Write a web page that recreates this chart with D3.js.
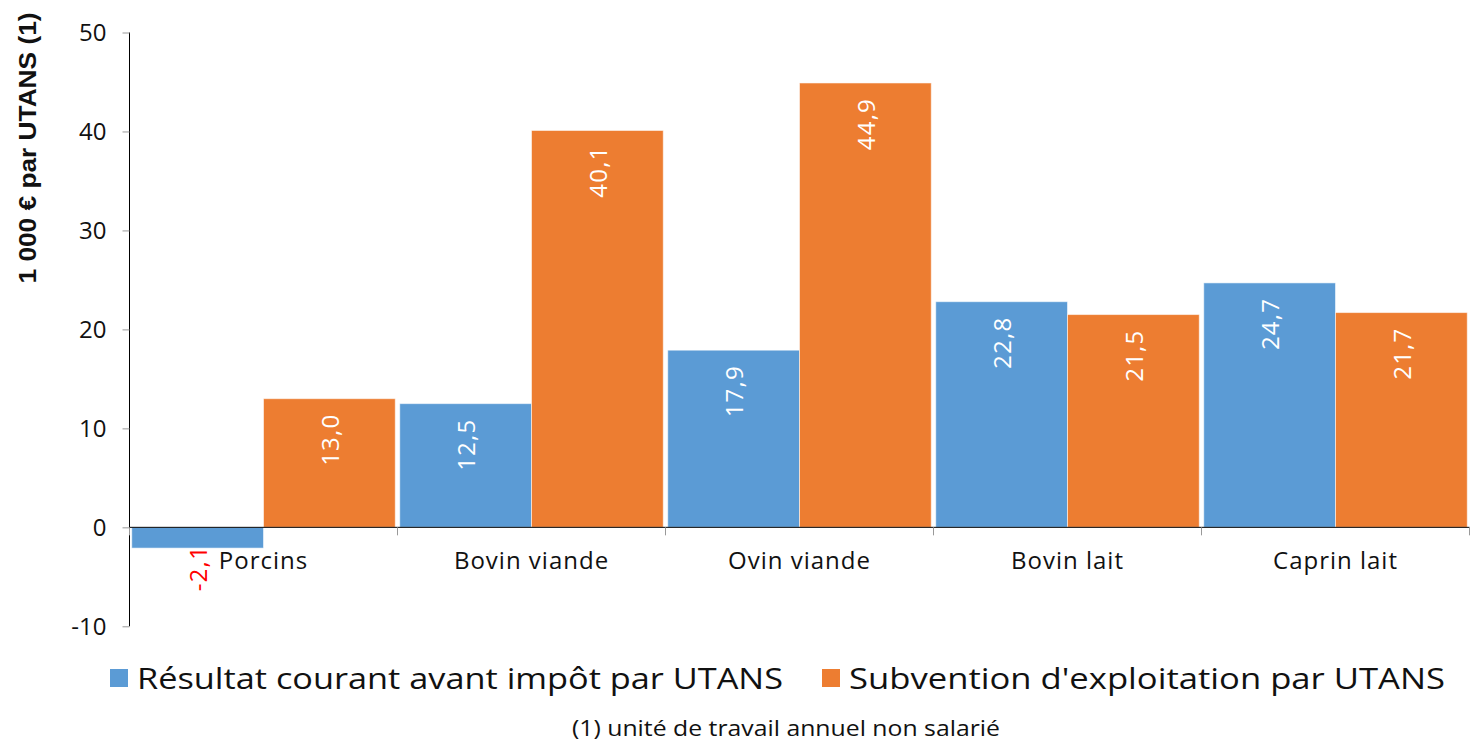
<!DOCTYPE html>
<html><head><meta charset="utf-8">
<script src="https://cdn.jsdelivr.net/npm/d3@7"></script>
<style>body{margin:0;background:#fff}svg{display:block}</style>
</head><body>
<svg id="c" width="1472" height="747"></svg>
<script>
const categories = ["Porcins","Bovin viande","Ovin viande","Bovin lait","Caprin lait"];
const seriesNames = ["Résultat courant avant impôt par UTANS","Subvention d'exploitation par UTANS"];
const resultat = [-2.1, 12.5, 17.9, 22.8, 24.7];
const subvention = [13.0, 40.1, 44.9, 21.5, 21.7];
const yTicks = [-10, 0, 10, 20, 30, 40, 50];
const colors = ["#5B9BD5", "#ED7D31"];

const svg = d3.select("#c");
const x0 = d3.scaleBand().domain(categories).range([129.5, 1469.5]).paddingInner(0).paddingOuter(0);
const x1 = d3.scaleBand().domain([0,1]).range([0, x0.bandwidth()]).paddingOuter(0.017);
const y = d3.scaleLinear().domain([-10, 50]).range([626.3, 32.5]);
const fmt = v => v.toFixed(1).replace(".", ",");
const font = "'Open Sans', sans-serif";

// bars
const data = categories.map((c,i) => ({c, vals:[resultat[i], subvention[i]]}));
const g = svg.append("g");
data.forEach(d => {
  d.vals.forEach((v,k) => {
    const bx = x0(d.c) + x1(k);
    g.append("rect")
      .attr("x", bx).attr("width", x1.bandwidth())
      .attr("y", y(Math.max(0,v))).attr("height", Math.abs(y(v)-y(0)))
      .attr("fill", colors[k]).attr("stroke", "#fff").attr("stroke-opacity", 0.55).attr("stroke-width", 1);
    const cx = bx + x1.bandwidth()/2;
    const ay = v >= 0 ? y(v) + 15 : y(v) - 3;
    g.append("text")
      .attr("transform", `translate(${cx},${ay}) rotate(-90)`)
      .attr("text-anchor", "end").attr("dominant-baseline", "central")
      .attr("font-family", font).attr("font-size", 24).attr("letter-spacing", 1.2)
      .attr("fill", v >= 0 ? "#fff" : "#ff0000")
      .text(fmt(v));
  });
});

// y axis
const yAxis = svg.append("g").attr("transform", "translate(129.5,0)")
  .call(d3.axisLeft(y).tickValues(yTicks).tickSize(7).tickPadding(16).tickFormat(d => d));
yAxis.select(".domain").attr("stroke", "#000").attr("d", `M0,${y(50)}V${y(-10)}`);
yAxis.selectAll(".tick line").attr("stroke", "#999");
yAxis.selectAll(".tick text").attr("font-family", font).attr("font-size", 24).attr("fill", "#111").attr("dy", "0.35em");

// x axis at zero
const xAxis = svg.append("g").attr("transform", `translate(0,${y(0)})`)
  .call(d3.axisBottom(x0).tickSize(0).tickPadding(0));
xAxis.select(".domain").attr("stroke", "#000").attr("d", `M129.5,0H1469.5`);
xAxis.selectAll(".tick text").attr("font-family", font).attr("font-size", 24).attr("letter-spacing", 1)
  .attr("fill", "#111").attr("y", 33).attr("dy", "0.35em");
const bounds = categories.map(c => x0(c)).concat([x0.range()[1]]);
svg.append("g").selectAll("line").data(bounds).join("line")
  .attr("x1", d => d).attr("x2", d => d).attr("y1", y(0)).attr("y2", y(0)+8)
  .attr("stroke", "#999").attr("stroke-width", 1);

// y title
svg.append("text")
  .attr("transform", "translate(27,148) rotate(-90)")
  .attr("text-anchor", "middle").attr("dominant-baseline", "central")
  .attr("font-family", "'Liberation Sans', Arial, sans-serif").attr("font-weight", "bold").attr("font-size", 24)
  .attr("textLength", 271).attr("lengthAdjust", "spacingAndGlyphs")
  .attr("fill", "#111").text("1 000 € par UTANS (1)");

// legend
const legendX = [110, 822];
const legendW = [646, 596];
const legend = svg.append("g");
seriesNames.forEach((n,k) => {
  legend.append("rect").attr("x", legendX[k]).attr("y", 669).attr("width", 18).attr("height", 18).attr("fill", colors[k]);
  legend.append("text").attr("x", legendX[k] + 27).attr("y", 677)
    .attr("dominant-baseline", "central")
    .attr("font-family", font).attr("font-size", 30).attr("fill", "#111")
    .attr("textLength", legendW[k]).attr("lengthAdjust", "spacingAndGlyphs")
    .text(n);
});

// footnote
svg.append("text").attr("x", 786).attr("y", 727).attr("text-anchor", "middle").attr("dominant-baseline", "central")
  .attr("font-family", font).attr("font-size", 22).attr("fill", "#111")
  .attr("textLength", 428).attr("lengthAdjust", "spacingAndGlyphs")
  .text("(1) unité de travail annuel non salarié");
</script>
</body></html>
